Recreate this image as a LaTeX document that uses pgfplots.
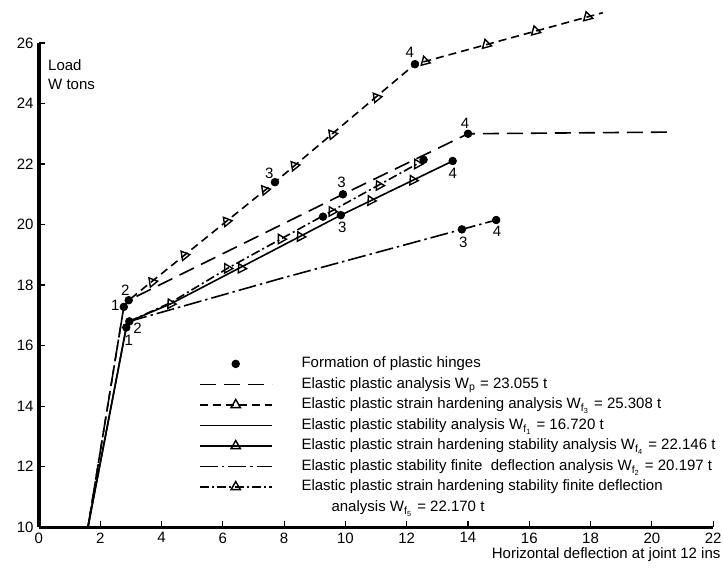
\documentclass[border=0pt]{standalone}
\usepackage{fontspec}
\setmainfont{Liberation Sans}
\usepackage{pgfplots}
\pgfplotsset{compat=1.18}
\tikzset{
  epa/.style={line width=0.8pt, dash pattern=on 8pt off 4pt},
  esh/.style={line width=0.8pt, dash pattern=on 4pt off 2.5pt},
  es/.style={line width=0.8pt, solid},
  eshs/.style={line width=0.8pt, solid},
  efd/.style={line width=0.8pt, dash pattern=on 9pt off 2pt on 1.2pt off 2pt},
  eshfd/.style={line width=0.8pt, dash pattern=on 4.5pt off 1.6pt on 1pt off 1.6pt},
  tri/.style={only marks, mark=triangle, mark size=2.7pt, mark options={solid, fill=white, line width=0.7pt, rotate=#1}},
}
\begin{document}
\fontsize{7.5}{9}\selectfont
\begin{tikzpicture}
\begin{axis}[
  scale only axis, width=337pt, height=242pt,
  xmin=0, xmax=22, ymin=10, ymax=26,
  axis x line=bottom, axis y line=left,
  axis line style={line width=1.6pt, -},
  xtick={0,2,...,22}, ytick={10,12,...,26},
  tick align=inside, major tick length=3pt,
  tick style={line width=0.6pt, black},
  xticklabel style={yshift=0pt},
  /pgf/number format/assume math mode=true,
  clip=false,
  legend cell align=left,
  legend style={at={(axis cs:5.22,15.66)}, anchor=north west, draw=none, fill=none,
    inner sep=0pt, outer sep=0pt, row sep=2.25pt, column sep=14.5pt,
    nodes={inner sep=0pt, text height=6pt, text depth=2pt}},
]
% Elastic plastic analysis
\addplot[epa, forget plot] coordinates {(1.6,10) (2.77,17.28) (2.93,17.5) (9.92,21.0) (14.0,23.0) (20.6,23.055)};
% Elastic plastic strain hardening analysis
\addplot[esh, forget plot] coordinates {(1.6,10) (2.77,17.28) (2.93,17.5) (7.7,21.4) (12.27,25.3) (18.4,27.0)};
% Elastic plastic stability analysis
\addplot[es, forget plot] coordinates {(1.6,10) (2.85,16.6) (2.92,16.72)};
% strain hardening stability
\addplot[eshs, forget plot] coordinates {(1.6,10) (2.85,16.6) (2.95,16.8) (4.3,17.38) (9.85,20.31) (13.5,22.1)};
% stability finite deflection
\addplot[efd, forget plot] coordinates {(2.95,16.8) (7.9,18.22) (13.8,19.84) (14.92,20.15)};
% strain hardening stability finite deflection
\addplot[eshfd, forget plot] coordinates {(2.95,16.8) (4.3,17.42) (6.15,18.55) (12.55,22.12)};
% triangles
\addplot[tri=39, forget plot] coordinates {(3.7,18.1) (4.75,18.98) (6.13,20.1) (7.38,21.14) (8.34,21.94) (9.57,22.98) (11.02,24.2)};
\addplot[tri=15, forget plot] coordinates {(12.6,25.39) (14.6,25.95) (16.2,26.39) (17.9,26.86)};
\addplot[tri=27, forget plot] coordinates {(4.3,17.38) (6.6,18.55) (8.53,19.6) (10.83,20.79) (12.2,21.46)};
\addplot[tri=29, forget plot] coordinates {(6.15,18.55) (7.9,19.52) (9.56,20.43) (11.1,21.29) (12.35,22.0)};
% plastic hinges
\addplot[only marks, mark=*, mark size=1.9pt, forget plot] coordinates {
 (2.77,17.28) (2.93,17.5) (2.85,16.6) (2.95,16.8)
 (9.92,21.0) (14.0,23.0) (7.7,21.4) (12.27,25.3)
 (9.85,20.31) (13.5,22.1) (13.8,19.84) (14.92,20.15)
 (9.27,20.26) (12.55,22.14)};
% hinge numbers
\node at (axis cs:2.49,17.34) {1};
\node at (axis cs:2.82,17.83) {2};
\node at (axis cs:2.93,16.18) {1};
\node at (axis cs:3.22,16.56) {2};
\node at (axis cs:7.52,21.7) {3};
\node at (axis cs:12.1,25.7) {4};
\node at (axis cs:9.87,21.38) {3};
\node at (axis cs:13.9,23.33) {4};
\node at (axis cs:9.9,19.9) {3};
\node at (axis cs:13.5,21.7) {4};
\node at (axis cs:13.85,19.4) {3};
\node at (axis cs:14.95,19.78) {4};
% axis titles
\node[anchor=north west, align=left, inner sep=0pt] at (axis cs:0.29,25.45) {Load\\[0.5pt]W tons};
\node[anchor=east, inner sep=0pt] at (axis cs:22.25,9.08) {Horizontal deflection at joint 12 ins};
% legend
\addlegendimage{legend image code/.code={\fill (18pt,0pt) circle (1.9pt);}}
\addlegendentry{Formation of plastic hinges}
\addlegendimage{legend image code/.code={\draw[epa] (0pt,0pt) -- (36pt,0pt);}}
\addlegendentry{Elastic plastic analysis W\textsubscript{p} = 23.055 t}
\addlegendimage{legend image code/.code={\draw[esh] (0pt,0pt) -- (36pt,0pt); \draw plot[mark=triangle, mark size=2.7pt, mark options={solid, fill=white, line width=0.7pt}] coordinates {(18pt,0pt)};}}
\addlegendentry{Elastic plastic strain hardening analysis W\textsubscript{f\textsubscript{3}} = 25.308 t}
\addlegendimage{legend image code/.code={\draw[es] (0pt,0pt) -- (36pt,0pt);}}
\addlegendentry{Elastic plastic stability analysis W\textsubscript{f\textsubscript{1}} = 16.720 t}
\addlegendimage{legend image code/.code={\draw[eshs] (0pt,0pt) -- (36pt,0pt); \draw plot[mark=triangle, mark size=2.7pt, mark options={solid, fill=white, line width=0.7pt}] coordinates {(18pt,0pt)};}}
\addlegendentry{Elastic plastic strain hardening stability analysis W\textsubscript{f\textsubscript{4}} = 22.146 t}
\addlegendimage{legend image code/.code={\draw[efd] (0pt,0pt) -- (36pt,0pt);}}
\addlegendentry{Elastic plastic stability finite\ \ deflection analysis W\textsubscript{f\textsubscript{2}} = 20.197 t}
\addlegendimage{legend image code/.code={\draw[eshfd] (0pt,0pt) -- (36pt,0pt); \draw plot[mark=triangle, mark size=2.7pt, mark options={solid, fill=white, line width=0.7pt}] coordinates {(18pt,0pt)};}}
\addlegendentry{Elastic plastic strain hardening stability finite deflection}
\addlegendimage{empty legend}
\addlegendentry{\hspace*{15pt}analysis W\textsubscript{f\textsubscript{5}} = 22.170 t}
% bounding box corners
\coordinate (bl) at (axis cs:-1.27,8.64);
\coordinate (tr) at (axis cs:22.32,27.42);
\end{axis}
\pgfresetboundingbox
\path (bl) rectangle (tr);
\end{tikzpicture}
\end{document}
